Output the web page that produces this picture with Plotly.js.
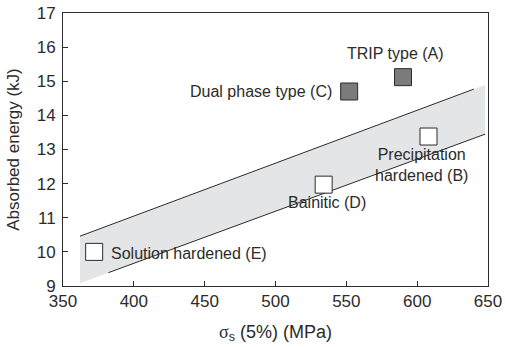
<!DOCTYPE html>
<html><head><meta charset="utf-8">
<script src="https://cdn.plot.ly/plotly-3.0.1.min.js"></script>
<style>html,body{margin:0;padding:0;background:#fff}#chart{width:505px;height:347px}</style>
</head><body><div id="chart"></div>
<script>
// Steel types: strength sigma_s(5%) (MPa) vs absorbed energy (kJ)
const steelLabels = ["TRIP type (A)", "Precipitation<br>hardened (B)", "Dual phase type (C)", "Bainitic (D)", "Solution hardened (E)"];
const steelStress = [590, 608, 552, 534, 372];
const steelEnergy = [15.12, 13.38, 14.7, 11.97, 10.0];
const steelFilled = [true, false, true, false, false];

// Scatter band (upper and lower trend lines)
const bandX = [362, 648, 648, 362];
const bandY = [10.46, 14.89, 13.45, 9.08];
const upperLineX = [362, 640];
const upperLineY = [10.46, 14.77];
const lowerLineX = [382, 648];
const lowerLineY = [9.39, 13.45];

const xTicks = [350, 400, 450, 500, 550, 600, 650];
const yTicks = [9, 10, 11, 12, 13, 14, 15, 16, 17];

// Label placement offsets (pixels) relative to each point
const labelDx = [-8, -7, -88, 3, 95];
const labelDy = [24, -28, 0, -18, -2];

const font = "Liberation Sans, Arial, sans-serif";
const ink = "#2b2b2b";

const traces = [
  {x: bandX, y: bandY, type: "scatter", mode: "lines", fill: "toself",
   fillcolor: "#e4e5e6", line: {width: 0, color: "rgba(0,0,0,0)"}, hoverinfo: "skip"},
  {x: upperLineX, y: upperLineY, type: "scatter", mode: "lines", line: {color: ink, width: 1}},
  {x: lowerLineX, y: lowerLineY, type: "scatter", mode: "lines", line: {color: ink, width: 1}},
  {x: steelStress, y: steelEnergy, type: "scatter", mode: "markers",
   marker: {symbol: "square", size: 17,
            color: steelFilled.map(f => f ? "#7b7b7d" : "#ffffff"),
            line: {color: ink, width: 1}}}
];

const annotations = steelLabels.map((t, i) => ({
  x: steelStress[i], y: steelEnergy[i], xref: "x", yref: "y",
  text: t, showarrow: false, xshift: labelDx[i], yshift: labelDy[i],
  xanchor: "center", yanchor: "middle",
  font: {family: font, size: 16, color: ink}, align: "center"
}));

const layout = {
  width: 505, height: 347,
  margin: {l: 63, r: 17, t: 13, b: 61},
  paper_bgcolor: "#fff", plot_bgcolor: "#fff",
  showlegend: false,
  font: {family: font, color: ink},
  xaxis: {range: [350, 650], tickvals: xTicks, ticks: "inside", ticklen: 5, tickcolor: ink,
          showline: true, linecolor: ink, linewidth: 1, mirror: true, showgrid: false, zeroline: false,
          tickfont: {size: 17, family: font, color: ink},
          title: {text: '<span style="font-family:Liberation Serif">σ</span><sub>s</sub> (5%) (MPa)', font: {size: 18, family: font, color: ink}, standoff: 14}},
  yaxis: {range: [9, 17], tickvals: yTicks, ticks: "inside", ticklen: 5, tickcolor: ink,
          showline: true, linecolor: ink, linewidth: 1, mirror: true, showgrid: false, zeroline: false,
          tickfont: {size: 17, family: font, color: ink}, ticklabelstandoff: 3,
          title: {text: "Absorbed energy (kJ)", font: {size: 17, family: font, color: ink}, standoff: 12}},
  annotations: annotations
};

Plotly.newPlot("chart", traces, layout, {displayModeBar: false, staticPlot: true});
</script></body></html>
